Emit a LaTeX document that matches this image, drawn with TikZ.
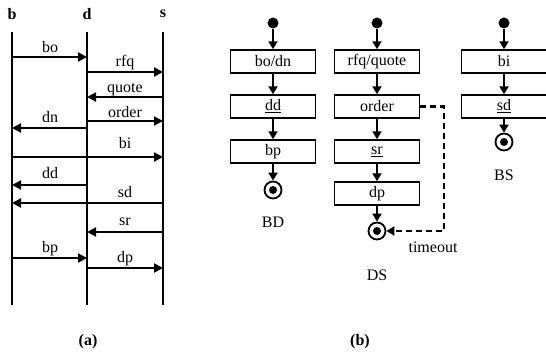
\documentclass[tikz,border=0pt]{standalone}
\usepackage{fontspec}
\setmainfont{Liberation Serif}
\usetikzlibrary{arrows.meta}
\tikzset{
  txt/.style={font=\fontsize{16}{18}\selectfont, inner sep=0pt},
  hdr/.style={font=\fontsize{16}{18}\selectfont\bfseries, inner sep=0pt},
  life/.style={line width=2.2pt},
  msg/.style={line width=2.2pt, -{Triangle[length=9pt,width=9pt]}},
  flow/.style={line width=2.2pt, -{Triangle[length=8pt,width=9pt]}},
  tmo/.style={line width=2.2pt, dash pattern=on 6pt off 4pt, -{Triangle[length=8pt,width=9pt]}},
  st/.style={draw, line width=1.5pt, minimum width=85pt, minimum height=23pt, inner sep=0pt, font=\fontsize{16}{18}\selectfont},
  startdot/.style={circle, fill=black, minimum size=11pt, inner sep=0pt},
  enddot/.style={circle, draw, line width=1.8pt, minimum size=17pt, inner sep=0pt,
     path picture={\fill (path picture bounding box.center) circle (4pt);}},
}
\begin{document}
\begin{tikzpicture}[x=1pt,y=-1pt]
\useasboundingbox (0,0) rectangle (546,356);
% ---------- (a) sequence diagram ----------
\node[hdr] (hb) at (12,14) {b};
\node[hdr] (hd) at (87,14) {d};
\node[hdr] (hs) at (163,14) {s};
\coordinate (bt) at (12,32);  \coordinate (bb) at (12,305);
\coordinate (dt) at (87,32);  \coordinate (db) at (87,305);
\coordinate (st) at (163,32); \coordinate (sb) at (163,305);
\draw[life] (bt) -- (bb);
\draw[life] (dt) -- (db);
\draw[life] (st) -- (sb);
% messages
\coordinate (m1a) at (12,57);  \coordinate (m1b) at (87,57);
\coordinate (m2a) at (87,72);  \coordinate (m2b) at (163,72);
\coordinate (m3a) at (163,97); \coordinate (m3b) at (87,97);
\coordinate (m4a) at (87,121); \coordinate (m4b) at (163,121);
\coordinate (m5a) at (87,128); \coordinate (m5b) at (12,128);
\coordinate (m6a) at (12,157); \coordinate (m6b) at (163,157);
\coordinate (m7a) at (87,185); \coordinate (m7b) at (12,185);
\coordinate (m8a) at (163,203);\coordinate (m8b) at (12,203);
\coordinate (m9a) at (163,232);\coordinate (m9b) at (87,232);
\coordinate (m10a) at (12,258);\coordinate (m10b) at (87,258);
\coordinate (m11a) at (87,268);\coordinate (m11b) at (163,268);
\draw[msg] (m1a) -- (m1b);
\draw[msg] (m2a) -- (m2b);
\draw[msg] (m3a) -- (m3b);
\draw[msg] (m4a) -- (m4b);
\draw[msg] (m5a) -- (m5b);
\draw[msg] (m6a) -- (m6b);
\draw[msg] (m7a) -- (m7b);
\draw[msg] (m8a) -- (m8b);
\draw[msg] (m9a) -- (m9b);
\draw[msg] (m10a) -- (m10b);
\draw[msg] (m11a) -- (m11b);
\node[txt, anchor=base] (l1) at (50,52) {bo};
\node[txt, anchor=base] (l2) at (125,66) {rfq};
\node[txt, anchor=base] (l3) at (125,92) {quote};
\node[txt, anchor=base] (l4) at (125,117) {order};
\node[txt, anchor=base] (l5) at (50,122) {dn};
\node[txt, anchor=base] (l6) at (125,148) {bi};
\node[txt, anchor=base] (l7) at (50,178) {dd};
\node[txt, anchor=base] (l8) at (125,197) {sd};
\node[txt, anchor=base] (l9) at (125,225) {sr};
\node[txt, anchor=base] (l10) at (50,252) {bp};
\node[txt, anchor=base] (l11) at (125,262) {dp};
\node[hdr] (capa) at (88,342) {(a)};
% ---------- (b) state machines ----------
% BD
\node[startdot] (bd0) at (273,23) {};
\node[st] (bd1) at (273,61.5) {bo/dn};
\node[st] (bd2) at (273,106.5) {\underline{dd}};
\node[st] (bd3) at (273,151.5) {bp};
\node[enddot] (bd4) at (273,190) {};
\node[txt] (bdl) at (273,222) {BD};
\draw[flow] (bd0) -- (bd1);
\draw[flow] (bd1) -- (bd2);
\draw[flow] (bd2) -- (bd3);
\draw[flow] (bd3) -- (bd4);
% DS
\node[startdot] (ds0) at (377,23) {};
\node[st] (ds1) at (377,61.5) {rfq/quote};
\node[st] (ds2) at (377,106.5) {order};
\node[st] (ds3) at (377,151.5) {\underline{sr}};
\node[st] (ds4) at (377,193.5) {dp};
\node[enddot] (ds5) at (377,231) {};
\node[txt] (dsl) at (377,275) {DS};
\draw[flow] (ds0) -- (ds1);
\draw[flow] (ds1) -- (ds2);
\draw[flow] (ds2) -- (ds3);
\draw[flow] (ds3) -- (ds4);
\draw[flow] (ds4) -- (ds5);
\coordinate (tc) at (444,231);
\draw[tmo] (ds2.east) -| (tc) -- (ds5);
\node[txt] (tml) at (433,247) {timeout};
% BS
\node[startdot] (bs0) at (504,23) {};
\node[st] (bs1) at (504,61.5) {bi};
\node[st] (bs2) at (504,106.5) {\underline{sd}};
\node[enddot] (bs3) at (504,142) {};
\node[txt] (bsl) at (504,175) {BS};
\draw[flow] (bs0) -- (bs1);
\draw[flow] (bs1) -- (bs2);
\draw[flow] (bs2) -- (bs3);
\node[hdr] (capb) at (360,342) {(b)};
\end{tikzpicture}
\end{document}
